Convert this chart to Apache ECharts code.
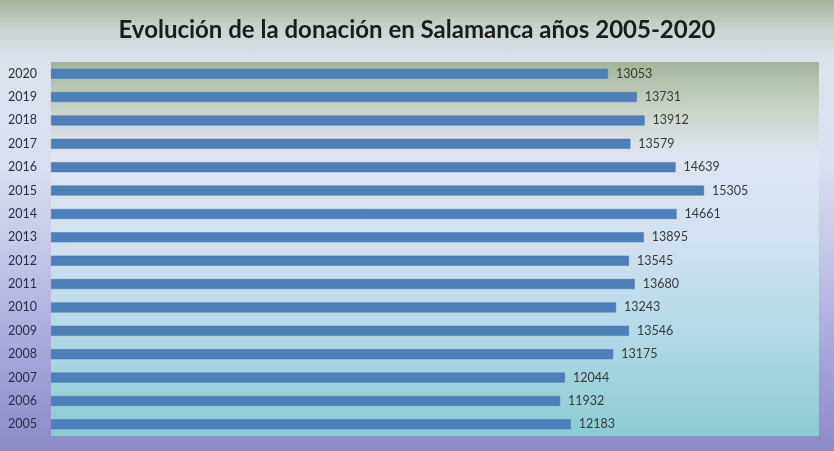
<!DOCTYPE html>
<html>
<head>
<meta charset="utf-8">
<script src="https://cdn.jsdelivr.net/npm/echarts@6/dist/echarts.min.js"></script>
<style>
html,body{margin:0;padding:0;}
#c{width:834px;height:451px;background:linear-gradient(to bottom,#a5b29c 0px,#cbd5d2 30px,#dce2ec 60px,#dbe0f0 160px,#c2c4e8 260px,#a4a4da 360px,#8c8ac4 451px);}
</style>
</head>
<body>
<div id="c"></div>
<script>
const titleText = 'Evolución de la donación en Salamanca años 2005-2020';
const years = ['2005','2006','2007','2008','2009','2010','2011','2012','2013','2014','2015','2016','2017','2018','2019','2020'];
const donations = [12183,11932,12044,13175,13546,13243,13680,13545,13895,14661,15305,14639,13579,13912,13731,13053];

const chart = echarts.init(document.getElementById('c'), null, {renderer:'canvas'});
chart.setOption({
  backgroundColor: 'transparent',
  animation: false,
  title: {
    text: titleText,
    left: 'center',
    top: 13,
    textStyle: {fontFamily: 'Lato', fontWeight: 'bold', fontSize: 24, color: '#1c1c1c'}
  },
  grid: {
    left: 51, right: 15, top: 62, bottom: 15,
    show: true,
    borderWidth: 0,
    backgroundColor: {
      type: 'linear', x: 0, y: 0, x2: 0, y2: 1,
      colorStops: [
        {offset: 0, color: '#a3b599'},
        {offset: 0.12, color: '#c8d3c6'},
        {offset: 0.25, color: '#dfe5f2'},
        {offset: 0.5, color: '#cfe1f0'},
        {offset: 0.75, color: '#afd8e6'},
        {offset: 1, color: '#8dcad3'}
      ]
    }
  },
  xAxis: {
    type: 'value',
    min: 0, max: 18000,
    show: false,
    splitLine: {show: false}
  },
  yAxis: {
    type: 'category',
    data: years,
    axisLine: {show: false},
    axisTick: {show: false},
    axisLabel: {fontFamily: 'Lato', fontSize: 12.5, color: '#2b2d45', margin: 14}
  },
  series: [{
    type: 'bar',
    data: donations,
    barWidth: 10,
    itemStyle: {color: '#4f7fb8', borderColor: '#4574ad', borderWidth: 0.5},
    label: {
      show: true,
      position: 'right',
      distance: 8,
      fontFamily: 'Lato',
      fontSize: 12.5,
      color: '#3a3a3a'
    }
  }]
});
</script>
</body>
</html>
